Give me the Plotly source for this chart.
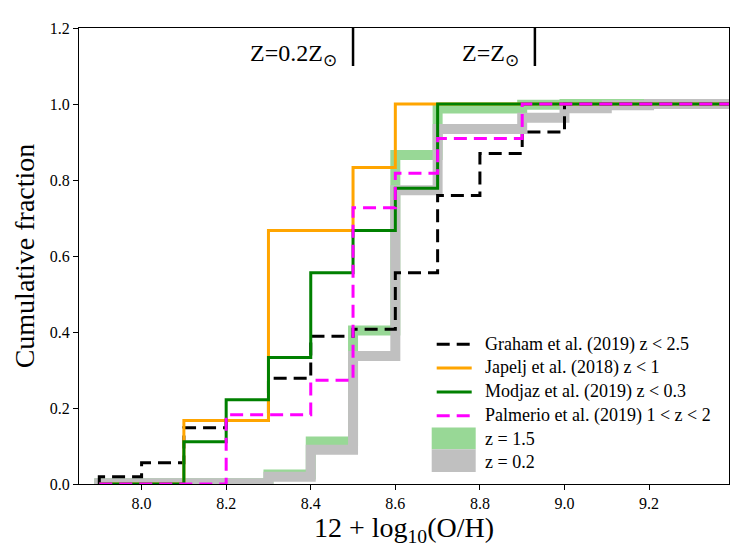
import numpy as np
import plotly.graph_objects as go

# === Datos (fraccion acumulada por bin de 0.1 dex) ===
bin_edges = [7.9, 8.0, 8.1, 8.2, 8.3, 8.4, 8.5, 8.6, 8.7, 8.8, 8.9, 9.0, 9.1, 9.2, 9.3, 9.4]

graham = [0.019, 0.056, 0.148, 0.167, 0.278, 0.389, 0.407, 0.556, 0.759, 0.870, 0.926, 1.0, 1.0, 1.0, 1.0]
japelj = [0.0, 0.0, 0.167, 0.167, 0.667, 0.667, 0.833, 1.0, 1.0, 1.0, 1.0, 1.0, 1.0, 1.0, 1.0]
modjaz = [0.0, 0.0, 0.111, 0.222, 0.333, 0.556, 0.667, 0.778, 1.0, 1.0, 1.0, 1.0, 1.0, 1.0, 1.0]
palmerio = [0.0, 0.0, 0.0, 0.182, 0.182, 0.273, 0.727, 0.818, 0.909, 0.909, 1.0, 1.0, 1.0, 1.0, 1.0]
modelo_z15 = [0.002, 0.002, 0.002, 0.002, 0.025, 0.112, 0.404, 0.866, 0.988, 0.988, 0.998, 1.0, 1.0, 1.0, 1.0]
modelo_z02 = [0.002, 0.002, 0.002, 0.002, 0.019, 0.090, 0.337, 0.773, 0.934, 0.934, 0.964, 0.989, 0.997, 1.0, 1.0]

z_marcas = [8.5, 8.93]
z_textos = ["Z=0.2Z<sub>⊙</sub>", "Z=Z<sub>⊙</sub>"]

x_ticks = [8.0, 8.2, 8.4, 8.6, 8.8, 9.0, 9.2]
y_ticks = [0.0, 0.2, 0.4, 0.6, 0.8, 1.0, 1.2]

FUENTE = "Liberation Serif"


def escalon(valores):
    # contorno tipo histograma 'step' (empieza en 0 en el primer borde)
    xs = [bin_edges[0]] + list(bin_edges[:len(valores)]) + [bin_edges[len(valores)]]
    ys = [0.0] + list(valores) + [valores[-1]]
    return xs, ys


series = [
    # nombre, datos, color, ancho, dash
    ("z = 1.5", modelo_z15, "rgb(152,216,150)", 10, "solid"),
    ("z = 0.2", modelo_z02, "rgb(192,192,192)", 10, "solid"),
    ("Graham et al. (2019) z &lt; 2.5", graham, "black", 3, "13px,7px"),
    ("Japelj et al. (2018) z &lt; 1", japelj, "orange", 3, "solid"),
    ("Modjaz et al. (2019) z &lt; 0.3", modjaz, "green", 3, "solid"),
    ("Palmerio et al. (2019) 1 &lt; z &lt; 2", palmerio, "magenta", 3, "13px,7px"),
]

fig = go.Figure()
for nombre, datos, color, ancho, dash in series:
    xs, ys = escalon(datos)
    fig.add_trace(go.Scatter(x=xs, y=ys, mode="lines", line_shape="hv",
                             line=dict(color=color, width=ancho, dash=dash),
                             name=nombre, showlegend=False, hoverinfo="skip"))

# marcas de metalicidad arriba
mx, my = [], []
for m in z_marcas:
    mx += [m, m, None]
    my += [1.1, 1.2, None]
fig.add_trace(go.Scatter(x=mx, y=my, mode="lines", line=dict(color="black", width=2.5),
                         showlegend=False, hoverinfo="skip"))
for m, t in zip(z_marcas, z_textos):
    fig.add_annotation(x=m, y=1.13, text=t, showarrow=False, xanchor="right",
                       yanchor="middle", xshift=-14, font=dict(family=FUENTE, size=24, color="black"))

# === Leyenda manual (pixeles de la ventana -> paper) ===
# la pagina tiene 8px de margen en el body
OFF = 8
X0, X1, Y0, Y1 = 79.3, 729.3, 23.3, 484.0


def px_x(p):
    return (p - X0) / (X1 - X0)


def px_y(p):
    return (Y1 - p) / (Y1 - Y0)


filas_y = [342.7, 366.7, 391.0, 415.0, 439.0, 462.0]
orden = [2, 3, 4, 5, 0, 1]
for fila, idx in zip(filas_y, orden):
    nombre, datos, color, ancho, dash = series[idx]
    if ancho > 5:
        top = 427 if idx == 0 else 449
        bot = 449 if idx == 0 else 472
        fig.add_shape(type="rect", xref="paper", yref="paper", x0=px_x(432), x1=px_x(476),
                      y0=px_y(bot), y1=px_y(top), fillcolor=color, line_width=0, layer="above")
    else:
        fig.add_shape(type="line", xref="paper", yref="paper", x0=px_x(437), x1=px_x(472),
                      y0=px_y(fila), y1=px_y(fila), line=dict(color=color, width=ancho, dash=dash),
                      layer="above")
    fig.add_annotation(xref="paper", yref="paper", x=px_x(483), y=px_y(fila), text=nombre,
                       showarrow=False, xanchor="left", yanchor="middle",
                       font=dict(family=FUENTE, size=18, color="black"))

eje = dict(showline=True, mirror=True, linecolor="black", linewidth=1.2, ticks="outside",
           ticklen=5, tickwidth=1.2, tickcolor="black", showgrid=False, zeroline=False,
           tickfont=dict(family=FUENTE, size=16, color="black"), tickformat=".1f")

W, H = 747 - OFF, 560 - OFF
fig.update_layout(
    width=W, height=H,
    margin=dict(l=X0 - OFF, r=W - (X1 - OFF), t=Y0 - OFF, b=H - (Y1 - OFF)),
    plot_bgcolor="white", paper_bgcolor="white",
    xaxis=dict(eje, range=[7.852, 9.389], tickvals=x_ticks,
               title=dict(text="12 + log<sub>10</sub>(O/H)", standoff=3,
                          font=dict(family=FUENTE, size=28, color="black"))),
    yaxis=dict(eje, range=[0, 1.2], tickvals=y_ticks,
               title=dict(text="Cumulative fraction", standoff=6,
                          font=dict(family=FUENTE, size=28, color="black"))),
)

fig.write_html("out.html")
